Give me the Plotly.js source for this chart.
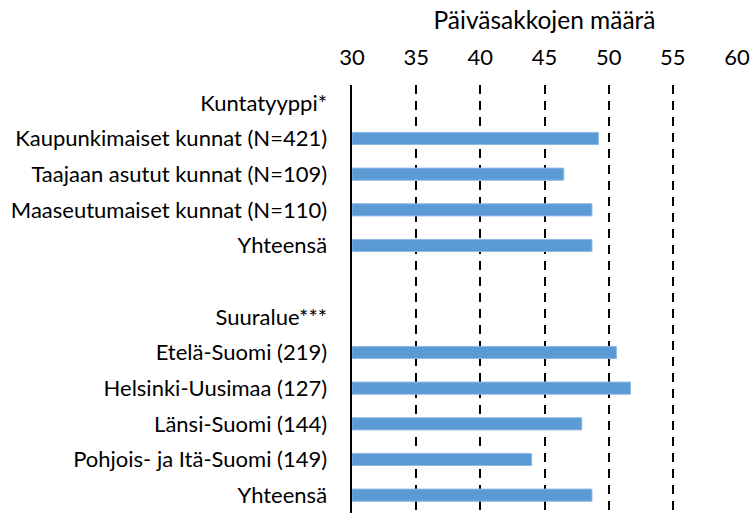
<!DOCTYPE html>
<html><head><meta charset="utf-8">
<script src="https://cdn.plot.ly/plotly-3.0.1.min.js"></script>
<style>html,body{margin:0;padding:0;background:#fff}</style>
</head><body>
<div id="chart" style="width:750px;height:513px"></div>
<script>
const labels = ["Kuntatyyppi*", "Kaupunkimaiset kunnat (N=421)", "Taajaan asutut kunnat (N=109)", "Maaseutumaiset kunnat (N=110)", "Yhteensä", "", "Suuralue***", "Etelä-Suomi (219)", "Helsinki-Uusimaa (127)", "Länsi-Suomi (144)", "Pohjois- ja Itä-Suomi (149)", "Yhteensä"];
const values = [null, 49.2, 46.5, 48.7, 48.7, null, null, 50.6, 51.7, 47.9, 44.0, 48.7];
const xTicks = [30, 35, 40, 45, 50, 55, 60];
const axisMin = 30, axisMax = 60;
const rowIdx = labels.map((_, i) => i);
const FONT = "Lato, 'Open Sans', sans-serif";

const trace = {
  type: 'bar', orientation: 'h',
  y: rowIdx, x: values.map(v => v === null ? null : v - axisMin), base: axisMin,
  width: 0.34,
  marker: {color: '#5B9BD5', line: {color: '#8FB8E3', width: 1}},
  hoverinfo: 'skip'
};
const layout = {
  width: 750, height: 513,
  margin: {l: 352, r: 13, t: 85, b: 0},
  paper_bgcolor: '#fff', plot_bgcolor: '#fff',
  showlegend: false,
  font: {family: FONT, size: 22, color: '#000'},
  title: {text: 'Päiväsakkojen määrä', font: {family: FONT, size: 24.5, color: '#000'},
          x: 0.5, xref: 'paper', xanchor: 'center', y: 1 - 20/513, yref: 'container', yanchor: 'middle'},
  xaxis: {side: 'top', range: [axisMin, axisMax], tickvals: xTicks, ticktext: xTicks.map(String),
          showgrid: true, gridcolor: '#000', gridwidth: 2, griddash: '9px,7px',
          zeroline: false, showline: false, ticks: '', ticklabelstandoff: 15,
          tickfont: {family: FONT, size: 22, color: '#000'}, fixedrange: true},
  yaxis: {range: [labels.length - 0.5, -0.5], tickvals: rowIdx, ticktext: labels,
          showgrid: false, zeroline: false, showline: true, linecolor: '#000', linewidth: 2.5,
          ticks: '', ticklabelstandoff: 18, tickfont: {family: FONT, size: 22, color: '#000'}, fixedrange: true}
};
Plotly.newPlot('chart', [trace], layout, {displayModeBar: false, staticPlot: true});
</script>
</body></html>
